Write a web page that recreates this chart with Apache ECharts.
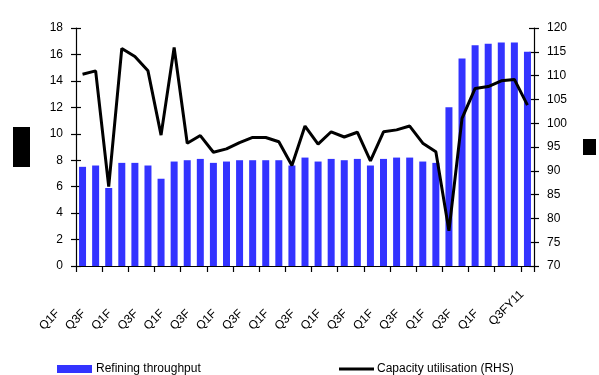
<!DOCTYPE html>
<html>
<head>
<meta charset="utf-8">
<script src="https://cdn.jsdelivr.net/npm/echarts@6/dist/echarts.min.js"></script>
<style>
  html, body { margin: 0; padding: 0; background: #fff; }
  #chart { width: 599px; height: 375px; }
</style>
</head>
<body>
<div id="chart"></div>
<script>
// Quarterly refining throughput (bars, LHS) and capacity utilisation (line, RHS)
const categories = [
  'Q1FY03', 'Q2FY03', 'Q3FY03', 'Q4FY03',
  'Q1FY04', 'Q2FY04', 'Q3FY04', 'Q4FY04',
  'Q1FY05', 'Q2FY05', 'Q3FY05', 'Q4FY05',
  'Q1FY06', 'Q2FY06', 'Q3FY06', 'Q4FY06',
  'Q1FY07', 'Q2FY07', 'Q3FY07', 'Q4FY07',
  'Q1FY08', 'Q2FY08', 'Q3FY08', 'Q4FY08',
  'Q1FY09', 'Q2FY09', 'Q3FY09', 'Q4FY09',
  'Q1FY10', 'Q2FY10', 'Q3FY10', 'Q4FY10',
  'Q1FY11', 'Q2FY11', 'Q3FY11'
];

const throughput = [
  7.5, 7.6, 5.9, 7.8, 7.8, 7.6, 6.6, 7.9, 8.0, 8.1, 7.8, 7.9,
  8.0, 8.0, 8.0, 8.0, 7.6, 8.2, 7.9, 8.1, 8.0, 8.1, 7.6, 8.1,
  8.2, 8.2, 7.9, 7.8, 12.0, 15.7, 16.7, 16.8, 16.9, 16.9, 16.2
];

const utilisation = [
  110.3, 111.0, 86.7, 115.7, 114.0, 111.0, 97.5, 115.9, 95.8, 97.4, 93.9, 94.6,
  95.9, 97.0, 97.0, 96.1, 91.1, 99.4, 95.6, 98.2, 97.1, 98.1, 92.1, 98.2,
  98.6, 99.4, 95.8, 94.0, 77.4, 101.0, 107.3, 107.7, 108.9, 109.2, 103.8
];

// Text shown under every second quarter (the long ones are cut short)
const tickLabels = [
  'Q1F', 'Q3F', 'Q1F', 'Q3F', 'Q1F', 'Q3F', 'Q1F', 'Q3F', 'Q1F',
  'Q3F', 'Q1F', 'Q3F', 'Q1F', 'Q3F', 'Q1F', 'Q3F', 'Q1F', 'Q3FY11'
];

const leftTicks = { min: 0, max: 18, interval: 2 };
const rightTicks = { min: 70, max: 120, interval: 5 };

const FONT = '"Liberation Sans", Arial, sans-serif';
const BLUE = '#3333ff';

const chart = echarts.init(document.getElementById('chart'), null, { renderer: 'canvas' });

function valueAxis(t, pos, showLabels, inside) {
  return {
    type: 'value',
    position: pos,
    min: t.min,
    max: t.max,
    interval: t.interval,
    splitLine: { show: false },
    axisLine: { show: showLabels, lineStyle: { color: '#000', width: 1.2 } },
    axisTick: { show: true, inside: inside, length: 5, lineStyle: { color: '#000', width: 1.2 } },
    axisLabel: {
      show: showLabels,
      margin: 13,
      color: '#000',
      fontFamily: FONT,
      fontSize: 12
    }
  };
}

chart.setOption({
  animation: false,
  backgroundColor: '#fff',
  grid: { left: 76, right: 65, top: 28, bottom: 109, containLabel: false },
  legend: [
    {
      data: ['Refining throughput'],
      left: 52, top: 358,
      itemWidth: 35, itemHeight: 8, itemGap: 0,
      textStyle: { fontFamily: FONT, fontSize: 12, color: '#000', padding: [0, 0, 0, -1] },
      icon: 'rect'
    },
    {
      data: [{ name: 'Capacity utilisation (RHS)', icon: 'rect' }],
      left: 334, top: 358,
      itemWidth: 35, itemHeight: 3, itemGap: 0,
      textStyle: { fontFamily: FONT, fontSize: 12, color: '#000', padding: [0, 0, 0, -2] }
    }
  ],
  xAxis: {
    type: 'category',
    data: categories,
    axisLine: { lineStyle: { color: '#000', width: 1.2 } },
    axisTick: { show: true, length: 6, lineStyle: { color: '#000', width: 1.2 } },
    axisLabel: {
      interval: 1,
      rotate: 45,
      margin: 21,
      color: '#000',
      fontFamily: FONT,
      fontSize: 12,
      formatter: function (value, index) {
        const text = tickLabels[index / 2];
        return index / 2 === tickLabels.length - 1 ? '{f|' + text + '}' : '{c|' + text + '}';
      },
      rich: {
        c: { fontFamily: FONT, fontSize: 12, color: '#000', padding: [0, 35, 0, 0] },
        f: { fontFamily: FONT, fontSize: 12, color: '#000', padding: [0, 8, 0, 0] }
      }
    }
  },
  yAxis: [
    valueAxis(leftTicks, 'left', true, false),
    valueAxis(rightTicks, 'right', true, false),
    valueAxis(leftTicks, 'left', false, true),
    valueAxis(rightTicks, 'right', false, true)
  ],
  series: [
    {
      name: 'Refining throughput',
      type: 'bar',
      yAxisIndex: 0,
      data: throughput,
      barWidth: 7,
      itemStyle: { color: BLUE }
    },
    {
      name: 'Capacity utilisation (RHS)',
      type: 'line',
      yAxisIndex: 1,
      data: utilisation,
      symbol: 'none',
      lineStyle: { color: '#000', width: 3 },
      itemStyle: { color: '#000' },
      z: 5
    }
  ],
  graphic: [
    { type: 'rect', left: 13, top: 127, shape: { width: 17, height: 40 }, style: { fill: '#000' } },
    { type: 'rect', left: 583, top: 139, shape: { width: 13, height: 16 }, style: { fill: '#000' } }
  ]
});
</script>
</body>
</html>
